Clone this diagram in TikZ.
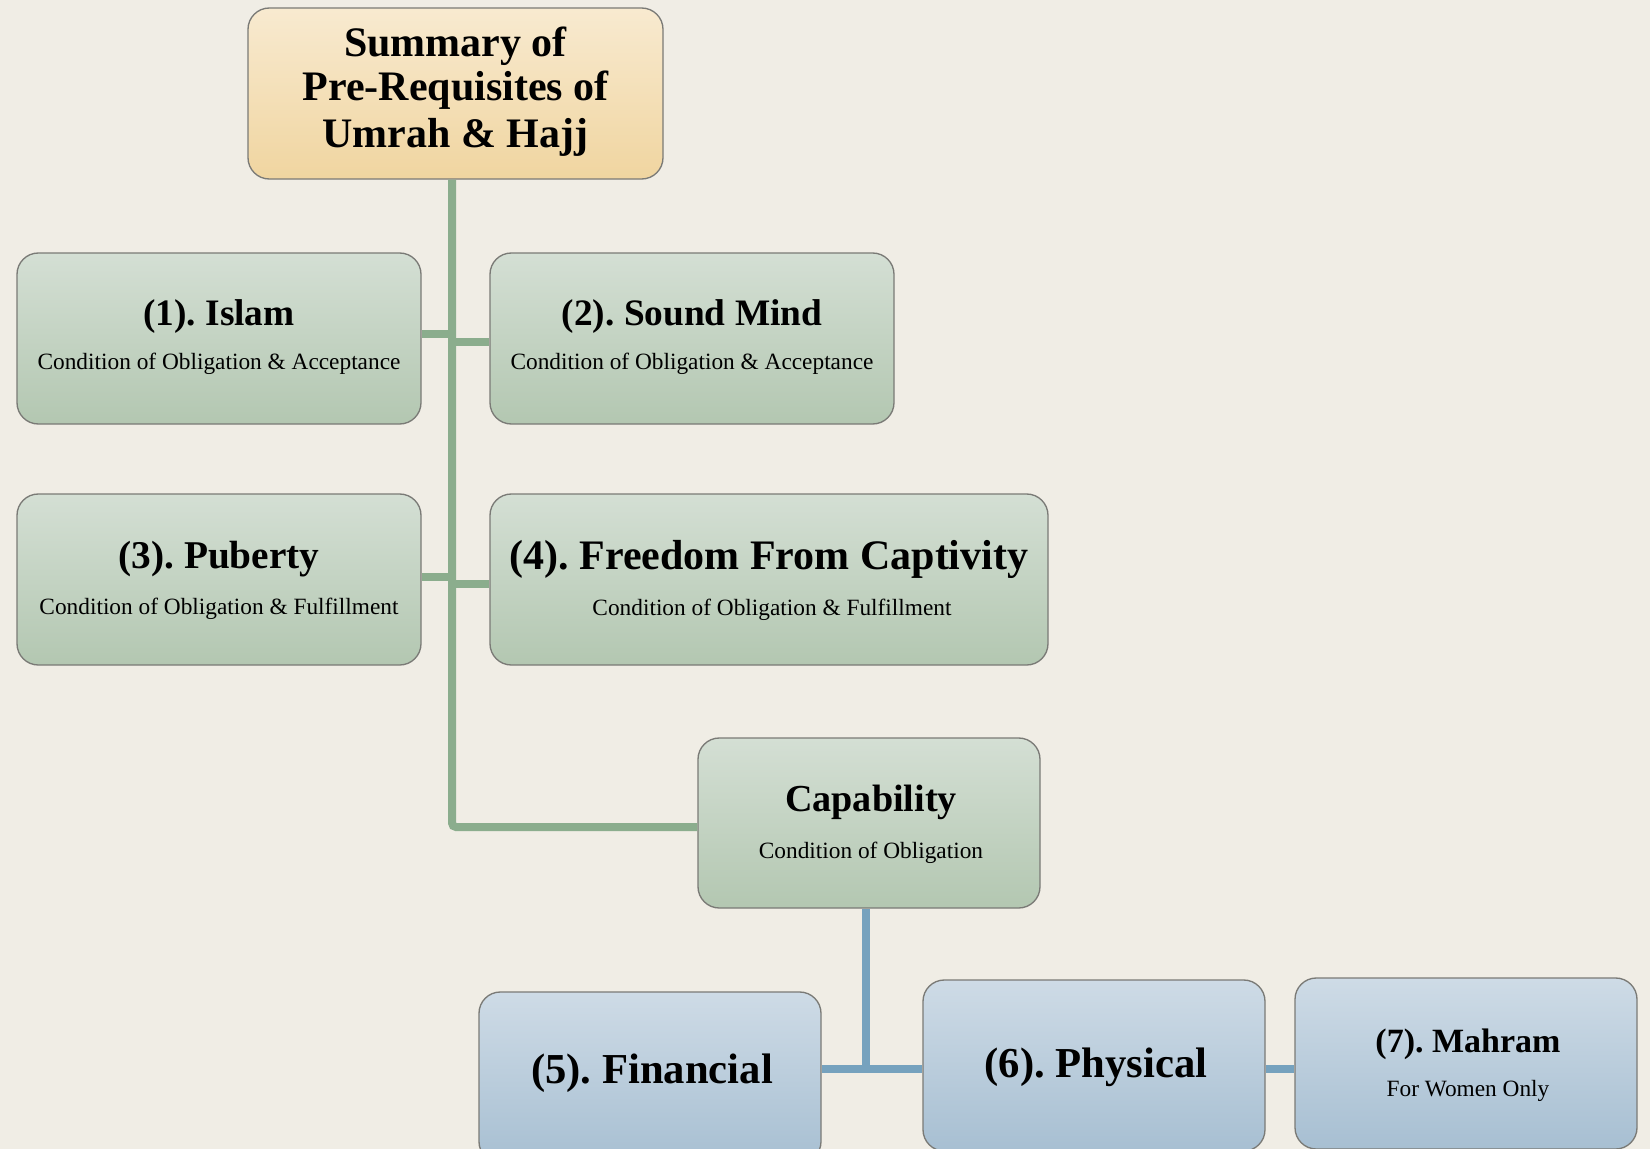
\documentclass[tikz,border=0pt]{standalone}
\usepackage{fontspec}
\setmainfont{Liberation Serif}
\frenchspacing
\definecolor{bg}{HTML}{F0EDE5}
\definecolor{gtop}{HTML}{D4DFD4}
\definecolor{gbot}{HTML}{B3C7B1}
\definecolor{ttop}{HTML}{F8EAD0}
\definecolor{tbot}{HTML}{F0D5A0}
\definecolor{btop}{HTML}{CEDBE6}
\definecolor{bbot}{HTML}{A7BFD2}
\definecolor{gline}{HTML}{8BAD8D}
\definecolor{bline}{HTML}{76A2BE}
\definecolor{boxline}{HTML}{7A7A76}
\tikzset{
  box/.style={draw=boxline, line width=1pt, rounded corners=16pt, inner sep=0pt,
    minimum height=128.25pt},
  gbox/.style={box, top color=gtop, bottom color=gbot},
  tbox/.style={box, top color=ttop, bottom color=tbot},
  bbox/.style={box, top color=btop, bottom color=bbot},
  txt/.style={anchor=base, inner sep=0pt},
  subt/.style={txt, font=\fontsize{17.5}{20}\selectfont},
  gconn/.style={draw=gline, line width=6pt},
  bconn/.style={draw=bline, line width=5.5pt},
}
\begin{document}
\begin{tikzpicture}[x=0.75pt,y=-0.75pt]
\useasboundingbox (0,0) rectangle (1650,1149);
\clip (0,0) rectangle (1650,1149);
\fill[bg] (0,0) rectangle (1650,1149);

% coordinates for connector joints
\coordinate (tb) at (452,827);
\coordinate (bj) at (866,1069);

% boxes
\node[tbox, minimum width=311.25pt] (title) at (455.5,93.5) {};
\node[gbox, minimum width=303pt] (islam) at (219,338.5) {};
\node[gbox, minimum width=303pt] (sound) at (692,338.5) {};
\node[gbox, minimum width=303pt] (puberty) at (219,579.5) {};
\node[gbox, minimum width=418.5pt] (freedom) at (769,579.5) {};
\node[gbox, minimum width=256.5pt, minimum height=127.5pt] (cap) at (869,823) {};
\node[bbox, minimum width=256.5pt] (fin) at (650,1077.5) {};
\node[bbox, minimum width=256.5pt] (phys) at (1094,1065.5) {};
\node[bbox, minimum width=256.5pt] (mah) at (1466,1063.5) {};

% connectors
\path[gconn, rounded corners=3pt] (tb |- title.south) -- (tb) -- (tb -| cap.west);
\path[gconn] ([yshift=3.4pt]islam.east) -- ([yshift=3.4pt]islam.east -| tb);
\path[gconn] ([yshift=-2.6pt]sound.west) -- ([yshift=-2.6pt]sound.west -| tb);
\path[gconn] ([yshift=1.9pt]puberty.east) -- ([yshift=1.9pt]puberty.east -| tb);
\path[gconn] ([yshift=-3.4pt]freedom.west) -- ([yshift=-3.4pt]freedom.west -| tb);
\path[bconn] (bj |- cap.south) -- (bj);
\path[bconn] (fin.east |- bj) -- (phys.west |- bj);
\path[bconn] (phys.east |- bj) -- (mah.west |- bj);

% texts
\begin{scope}[font=\fontsize{31.5}{34}\selectfont\bfseries]
\node[txt] (t1) at (455.5,57) {Summary of};
\node[txt] (t2) at (455.5,100) {Pre-Requisites of};
\node[txt] (t3) at (455.5,147) {Umrah \& Hajj};
\end{scope}

\node[txt, font=\fontsize{28}{30}\selectfont\bfseries] (islamh) at (219,325) {(1). Islam};
\node[subt] (islams) at (219,369) {Condition of Obligation \& Acceptance};

\node[txt, font=\fontsize{28}{30}\selectfont\bfseries] (soundh) at (692,325) {(2). Sound Mind};
\node[subt] (sounds) at (692,369) {Condition of Obligation \& Acceptance};

\node[txt, font=\fontsize{29.5}{32}\selectfont\bfseries] (puberh) at (219,568) {(3). Puberty};
\node[subt] (subers) at (219,614.5) {Condition of Obligation \& Fulfillment};

\node[txt, font=\fontsize{31.5}{34}\selectfont\bfseries] (freeh) at (769,569) {(4). Freedom From Captivity};
\node[subt] (frees) at (772,615.5) {Condition of Obligation \& Fulfillment};

\node[txt, font=\fontsize{28.6}{32}\selectfont\bfseries] (caph) at (871,811) {Capability};
\node[subt] (caps) at (871,858) {Condition of Obligation};

\node[txt, font=\fontsize{32}{34}\selectfont\bfseries] (finh) at (652,1083) {(5). Financial};
\node[txt, font=\fontsize{32}{34}\selectfont\bfseries] (physh) at (1096,1077) {(6). Physical};

\node[txt, font=\fontsize{25.5}{28}\selectfont\bfseries] (mahh) at (1468,1052) {(7). Mahram};
\node[subt] (mahs) at (1468,1096) {For Women Only};
\end{tikzpicture}
\end{document}
